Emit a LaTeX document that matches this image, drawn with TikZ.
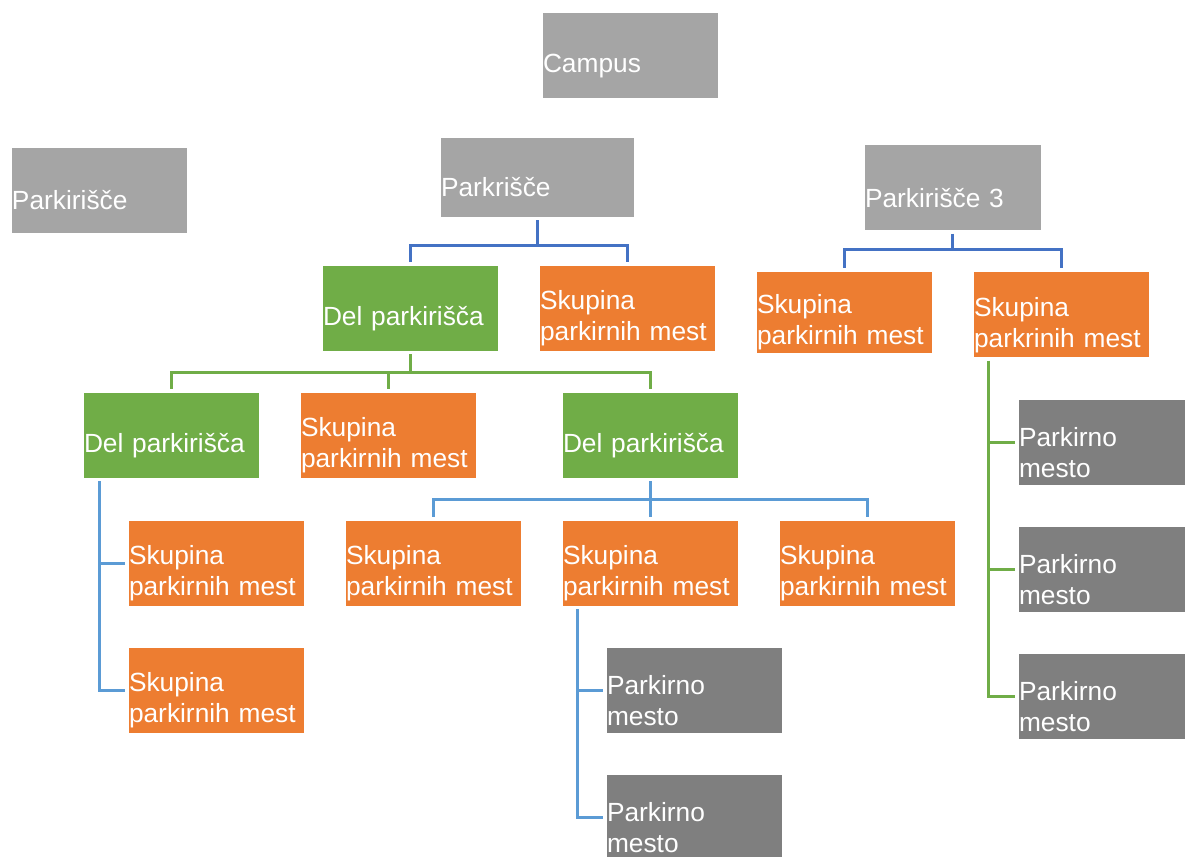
\documentclass[tikz,border=0pt]{standalone}
\usepackage{fontspec}
\setmainfont{Liberation Sans}
\definecolor{lgray}{HTML}{A5A5A5}
\definecolor{dgray}{HTML}{7F7F7F}
\definecolor{orng}{HTML}{ED7D31}
\definecolor{grn}{HTML}{70AD47}
\definecolor{dblue}{HTML}{4472C4}
\definecolor{lblue}{HTML}{5B9BD5}
\tikzset{
  box/.style={rectangle, draw=white, line width=0.6pt, text=white,
    minimum width=176pt, minimum height=86pt, text width=174pt,
    inner xsep=1pt, inner ysep=0pt, align=left, text height=40pt,
    font=\fontsize{26.3}{31}\selectfont},
  topbox/.style={box, fill=lgray},
  delbox/.style={box, fill=grn},
  skbox/.style={box, fill=orng},
  pmbox/.style={box, fill=dgray},
  conn/.style={line width=3pt, shorten <=3pt, shorten >=3pt},
}
\begin{document}
\begin{tikzpicture}[x=1pt,y=-1pt]
\useasboundingbox (0,0) rectangle (1185,856);
\clip (0,0) rectangle (1185,856);
% top level
\node[topbox] (campus) at (630,55) {Campus};
\node[topbox] (pA) at (99,190) {Parkirišče};
\node[topbox, minimum width=194pt, minimum height=80pt, text width=192pt] (pB) at (537,177) {Parkrišče};
\node[topbox, minimum width=177pt, text width=175pt] (pC) at (952.5,187.5) {Parkirišče 3};
% level 1
\node[delbox] (d1) at (410,308) {Del parkirišča};
\node[skbox] (s1) at (627,308) {Skupina\\parkirnih mest};
\node[skbox, minimum height=82pt] (s2) at (844,312) {Skupina\\parkirnih mest};
\node[skbox] (s3) at (1061,314.5) {Skupina\\parkrinih mest};
% level 2
\node[delbox] (d2) at (171,435) {Del parkirišča};
\node[skbox] (s4) at (388,435) {Skupina\\parkirnih mest};
\node[delbox] (d3) at (650,435) {Del parkirišča};
% level 3
\node[skbox] (s5) at (216,563) {Skupina\\parkirnih mest};
\node[skbox] (s6) at (216,690) {Skupina\\parkirnih mest};
\node[skbox] (s7) at (433,563) {Skupina\\parkirnih mest};
\node[skbox] (s8) at (650,563) {Skupina\\parkirnih mest};
\node[skbox] (s9) at (867,563) {Skupina\\parkirnih mest};
% parking spots
\node[pmbox] (m1) at (694,690) {Parkirno\\mesto};
\node[pmbox] (m2) at (694,817) {Parkirno\\mesto};
\node[pmbox] (m3) at (1106,442) {Parkirno\\mesto};
\node[pmbox] (m4) at (1106,569) {Parkirno\\mesto};
\node[pmbox] (m5) at (1106,696) {Parkirno\\mesto};
% connectors
\draw[conn, dblue] (pB.south) -- ++(0,28) -| (d1.north);
\draw[conn, dblue] (pB.south) -- ++(0,28) -| (s1.north);
\draw[conn, dblue] (pC.south) -- ++(0,19) -| (s2.north);
\draw[conn, dblue] (pC.south) -- ++(0,19) -| (s3.north);
\draw[conn, grn] (d1.south) -- ++(0,21) -| (d2.north);
\draw[conn, grn] (d1.south) -- ++(0,21) -| (s4.north);
\draw[conn, grn] (d1.south) -- ++(0,21) -| (d3.north);
\draw[conn, lblue] ([xshift=17pt]d2.south west) |- (s5.west);
\draw[conn, lblue] ([xshift=17pt]d2.south west) |- (s6.west);
\draw[conn, lblue] (d3.south) -- ++(0,21) -| (s7.north);
\draw[conn, lblue] (d3.south) -- ++(0,21) -| (s8.north);
\draw[conn, lblue] (d3.south) -- ++(0,21) -| (s9.north);
\draw[conn, lblue] ([xshift=16pt]s8.south west) |- (m1.west);
\draw[conn, lblue] ([xshift=16pt]s8.south west) |- (m2.west);
\draw[conn, grn] ([xshift=16pt]s3.south west) |- (m3.west);
\draw[conn, grn] ([xshift=16pt]s3.south west) |- (m4.west);
\draw[conn, grn] ([xshift=16pt]s3.south west) |- (m5.west);
\end{tikzpicture}
\end{document}
